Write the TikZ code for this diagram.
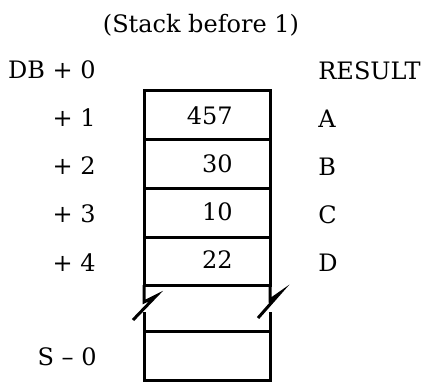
\documentclass[tikz,border=0pt]{standalone}
\usepackage{fontspec}
\setmainfont{DejaVu Serif}
\usepackage{tikz}

\tikzset{
  txt/.style={inner sep=0pt, font=\fontsize{12}{14}\selectfont},
  offlabel/.style={txt, anchor=east},
  reslabel/.style={txt, anchor=west},
  cell/.style={line width=1.5pt}
}

\begin{document}
\begin{tikzpicture}[x=0.5pt,y=-0.5pt]
\useasboundingbox (0,0) rectangle (432,385);

% stack cells
\draw[cell] (144,90) rectangle (270,285);
\draw[cell] (144,139) -- (270,139);
\draw[cell] (144,188) -- (270,188);
\draw[cell] (144,237) -- (270,237);
\draw[cell] (144,331) rectangle (270,380);

% broken sides
\draw[cell] (144,285) -- (144,302) -- (156,296) -- (133,320);
\draw[cell] (144,312) -- (144,331);
\draw[cell] (270,285) -- (270,300) -- (280,293) -- (258,318);
\draw[cell] (270,312) -- (270,331);

\node[txt] (title) at (201,25) {(Stack before 1)};

\node[offlabel] (db) at (96,70) {DB + 0};
\node[offlabel] (p1) at (96,118) {+ 1};
\node[offlabel] (p2) at (96,166) {+ 2};
\node[offlabel] (p3) at (96,214) {+ 3};
\node[offlabel] (p4) at (96,263) {+ 4};
\node[offlabel] (s0) at (97,357) {S -- 0};

\node[offlabel] (v1) at (233,116) {457};
\node[offlabel] (v2) at (233,164) {30};
\node[offlabel] (v3) at (233,212) {10};
\node[offlabel] (v4) at (233,260) {22};

\node[reslabel] (res) at (318,71) {RESULT};
\node[reslabel] (a) at (318,119) {A};
\node[reslabel] (b) at (318,167) {B};
\node[reslabel] (c) at (318,215) {C};
\node[reslabel] (d) at (318,263) {D};
\end{tikzpicture}
\end{document}
